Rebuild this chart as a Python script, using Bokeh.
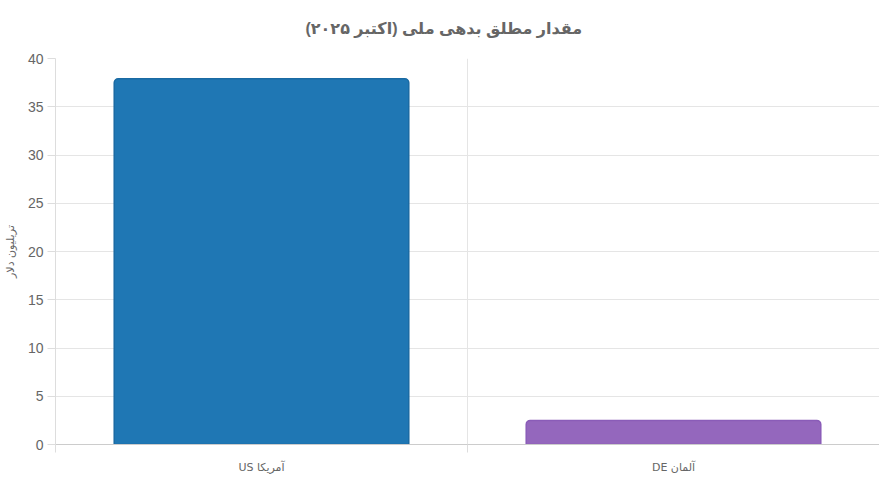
from bokeh.plotting import figure
from bokeh.embed import file_html
from bokeh.resources import INLINE
from bokeh.models import ColumnDataSource, FixedTicker, Grid, Range1d

# data
countries = ["US آمریکا", "DE آلمان"]
debt = [37.9, 2.5]
fill_colors = ["#1f77b4", "#9467bd"]
line_colors = ["#1a6aa3", "#8a5cb8"]
y_ticks = [0, 5, 10, 15, 20, 25, 30, 35, 40]

title_text = "مقدار مطلق بدهی ملی (اکتبر ۲۰۲۵)\u200f"
y_label = "تریلیون دلار"

xs = [i + 0.5 for i in range(len(countries))]
src = ColumnDataSource(dict(x=xs, top=debt, fill=fill_colors, line=line_colors))

p = figure(width=879, height=478, output_backend="svg", toolbar_location=None,
           x_range=Range1d(0, len(countries)), y_range=Range1d(0, 40),
           min_border_left=10, min_border_right=0, min_border_top=55, min_border_bottom=34)
p.outline_line_color = None

p.title.text = title_text
p.title.align = "left"
p.title.offset = 250
p.title.vertical_align = "top"
p.title.text_font = "Liberation Sans, DejaVu Sans"
p.title.text_font_size = "16px"
p.title.text_font_style = "bold"
p.title.text_color = "#666666"
p.title.standoff = 39

p.vbar(x="x", top="top", bottom=0, width=0.715, source=src,
       fill_color="fill", line_color="line", line_width=1.5,
       border_radius=(4, 4, 0, 0))

# y axis
p.yaxis.ticker = FixedTicker(ticks=y_ticks)
p.yaxis.axis_line_color = "#dddddd"
p.yaxis.major_tick_line_color = "#dddddd"
p.yaxis.major_tick_in = 0
p.yaxis.major_tick_out = 8
p.yaxis.minor_tick_line_color = None
p.yaxis.major_label_text_font = "Liberation Sans"
p.yaxis.major_label_text_font_size = "14px"
p.yaxis.major_label_text_color = "#666666"
p.yaxis.major_label_standoff = 4
p.yaxis.axis_label = y_label
p.yaxis.axis_label_text_font = "DejaVu Sans"
p.yaxis.axis_label_text_font_size = "11px"
p.yaxis.axis_label_text_font_style = "normal"
p.yaxis.axis_label_text_color = "#666666"
p.yaxis.axis_label_standoff = 8

# x axis: labels at bar centres, tick marks at category edges
p.xaxis.ticker = FixedTicker(ticks=xs, minor_ticks=list(range(len(countries) + 1)))
p.xaxis.major_label_overrides = {x: c for x, c in zip(xs, countries)}
p.xaxis.axis_line_color = "#cccccc"
p.xaxis.major_tick_line_color = None
p.xaxis.minor_tick_line_color = "#dddddd"
p.xaxis.minor_tick_in = 0
p.xaxis.minor_tick_out = 8
p.xaxis.major_label_text_font = "DejaVu Sans"
p.xaxis.major_label_text_font_size = "11px"
p.xaxis.major_label_text_color = "#666666"
p.xaxis.major_label_standoff = 8
p.xaxis.axis_label_standoff = 0

p.xgrid.visible = False
p.ygrid.grid_line_color = "#e5e5e5"
vgrid = Grid(dimension=0, ticker=FixedTicker(ticks=list(range(len(countries) + 1))),
             grid_line_color="#e5e5e5")
p.add_layout(vgrid)

open("out.html", "w").write(file_html(p, INLINE))
